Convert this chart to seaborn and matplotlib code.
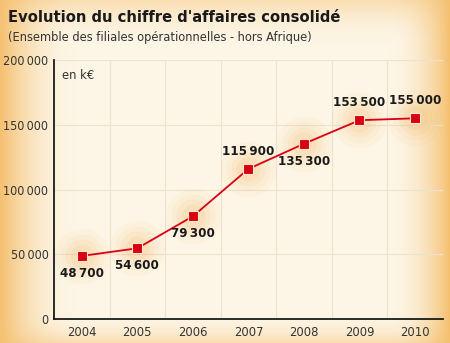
import numpy as np
import pandas as pd
import matplotlib
matplotlib.use("Agg")
import matplotlib.pyplot as plt
import seaborn as sns
from matplotlib.ticker import FuncFormatter

years = ["2004", "2005", "2006", "2007", "2008", "2009", "2010"]
revenue = [48700, 54600, 79300, 115900, 135300, 153500, 155000]
label_above = [False, False, False, True, False, True, True]
y_ticks = [0, 50000, 100000, 150000, 200000]

title = "Evolution du chiffre d'affaires consolidé"
subtitle = "(Ensemble des filiales opérationnelles - hors Afrique)"
unit = "en k€"

sns.set_theme(style="white")
plt.rcParams["font.family"] = ["DejaVu Sans"]
plt.rcParams["font.stretch"] = "condensed"

df = pd.DataFrame({"year": years, "ca": revenue})

fig = plt.figure(figsize=(4.5, 3.43), dpi=100)

# warm background: cream centre fading to orange at the edges
bg = fig.add_axes([0, 0, 1, 1], zorder=-10)
h, w = 343, 450
yy, xx = np.mgrid[0:h, 0:w]
fx = np.clip(np.minimum(xx / 75.0, (w - 1 - xx) / 60.0), 0, 1)
fy = np.clip(np.minimum(yy / 45.0, (h - 1 - yy) / 30.0), 0, 1)
fx = 1 - (1 - fx) ** 2
fy = 1 - (1 - fy) ** 2
t = fx * (0.55 + 0.45 * fy)
edge = np.array([245, 192, 112]) / 255.0
centre = np.array([253, 245, 229]) / 255.0
img = edge[None, None, :] * (1 - t[..., None]) + centre[None, None, :] * t[..., None]
bg.imshow(img, aspect="auto", extent=[0, 1, 0, 1], origin="upper")
bg.axis("off")

ax = fig.add_axes([0.12, 0.07, 0.864, 0.755])
ax.patch.set_alpha(0)

# soft orange halo behind each point
xpos = np.arange(len(years))
for s, a in [(1600, 0.04), (1000, 0.05), (600, 0.07), (300, 0.09)]:
    ax.scatter(xpos, revenue, s=s, color="#f0a030", alpha=a, lw=0, zorder=1)

sns.pointplot(data=df, x="year", y="ca", color="#d90012", markers="s",
              linestyles="-", linewidth=1.3, markersize=6.5,
              markeredgecolor="#fbe6d0", markeredgewidth=0.8, ax=ax, zorder=3)

for i, (v, up) in enumerate(zip(revenue, label_above)):
    txt = f"{v:,}".replace(",", "\u2009")
    off = 8 if up else -8
    ax.annotate(txt, (i, v), xytext=(0, off), textcoords="offset points",
                ha="center", va="bottom" if up else "top",
                fontsize=9.5, fontweight="bold", color="#1a1a1a")

ax.set_xlim(-0.5, len(years) - 0.5)
ax.set_ylim(0, 200000)
ax.set_yticks(y_ticks)
ax.yaxis.set_major_formatter(FuncFormatter(lambda v, p: f"{int(v):,}".replace(",", "\u2009")))
ax.set_xticks(xpos)
ax.set_xticklabels(years)
ax.set_xticks(np.arange(len(years) + 1) - 0.5, minor=True)
ax.set_xlabel("")
ax.set_ylabel("")

ax.grid(False)
for y in y_ticks[1:]:
    ax.axhline(y, color="#ece2d0", lw=0.8, zorder=0)
for x in np.arange(len(years)) + 0.5:
    ax.axvline(x, color="#ece2d0", lw=0.8, zorder=0)

for side in ["top", "right"]:
    ax.spines[side].set_visible(False)
for side in ["left", "bottom"]:
    ax.spines[side].set_color("#1a1a1a")
    ax.spines[side].set_linewidth(1.3)

ax.tick_params(axis="y", direction="in", length=9, width=1.3, color="#1a1a1a",
               labelsize=9, labelcolor="#333333", pad=4)
ax.tick_params(axis="x", which="major", length=0, labelsize=9.3,
               labelcolor="#333333", pad=5)
ax.tick_params(axis="x", which="minor", direction="in", length=5, width=1.3,
               color="#1a1a1a")

ax.text(0.02, 0.965, unit, transform=ax.transAxes, fontsize=9.3,
        color="#333333", va="top", ha="left")

fig.text(8 / 450, 1 - 17 / 343, title, fontsize=11.8, fontweight="bold",
         color="#1a1a1a", va="center", ha="left")
fig.text(8 / 450, 1 - 38 / 343, subtitle, fontsize=9.2,
         color="#333333", va="center", ha="left")

fig.savefig("out.png", dpi=100)
